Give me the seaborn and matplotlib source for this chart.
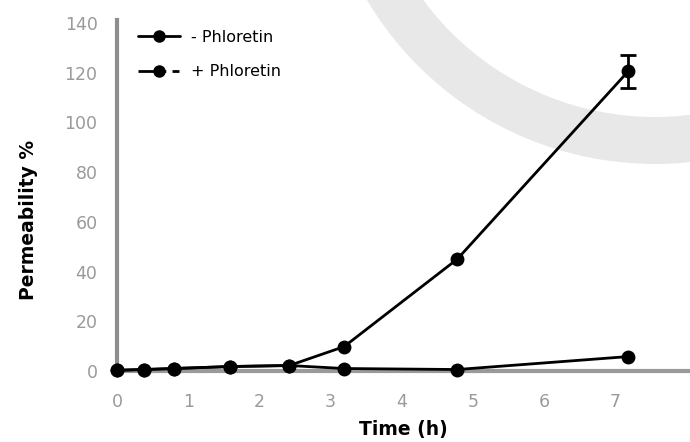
import matplotlib
matplotlib.use("Agg")
import matplotlib.pyplot as plt
import seaborn as sns
import pandas as pd
from matplotlib.patches import Wedge
from matplotlib.lines import Line2D

# dataset
time_h = [0, 0.38, 0.80, 1.59, 2.42, 3.19, 4.78, 7.18]
minus_phloretin = [0.3, 0.6, 1.0, 1.8, 2.2, 9.8, 45.0, 120.5]
plus_phloretin = [0.3, 0.6, 1.0, 1.8, 2.2, 1.0, 0.6, 5.8]
minus_err_last = 6.5
labels = ["- Phloretin", "+ Phloretin"]
x_ticks = [0, 1, 2, 3, 4, 5, 6, 7]
y_ticks = [0, 20, 40, 60, 80, 100, 120, 140]

df = pd.DataFrame({
    "time": time_h * 2,
    "perm": minus_phloretin + plus_phloretin,
    "group": [labels[0]] * len(time_h) + [labels[1]] * len(time_h),
})

sns.set_style("white")
plt.rcParams["font.family"] = ["DejaVu Sans"]
plt.rcParams["lines.scale_dashes"] = False

fig = plt.figure(figsize=(6.9, 4.42), dpi=100, facecolor="white")

# decorative grey ring in the background (pixel coordinates)
bg = fig.add_axes([0, 0, 1, 1], zorder=0)
bg.set_xlim(0, 690)
bg.set_ylim(442, 0)
bg.axis("off")
bg.add_patch(Wedge((655, -171), 335, 0, 360, width=47, color="#e8e8e8", lw=0))

ax = fig.add_axes([117 / 690, 71 / 442, 573 / 690, 351 / 442], zorder=1)
ax.patch.set_alpha(0)

sns.lineplot(data=df, x="time", y="perm", hue="group",
             palette={labels[0]: "black", labels[1]: "black"},
             marker="o", markersize=10, markeredgewidth=0, linewidth=2,
             legend=False, ax=ax, clip_on=False, zorder=3)

ax.errorbar(time_h[-1], minus_phloretin[-1], yerr=minus_err_last, fmt="none",
            ecolor="black", elinewidth=2, capsize=6, capthick=2, zorder=3,
            clip_on=False)

ax.set_xlim(0, 8.05)
ax.set_ylim(0, 141.2)
ax.set_xticks(x_ticks)
ax.set_yticks(y_ticks)
ax.tick_params(axis="both", length=0, labelsize=12.5, colors="#9a9a9a")
ax.tick_params(axis="x", pad=16)
ax.tick_params(axis="y", pad=14)

for side in ["top", "right"]:
    ax.spines[side].set_visible(False)
ax.spines["left"].set_color("#8e8e8e")
ax.spines["bottom"].set_color("#9a9a9a")
ax.spines["left"].set_linewidth(3)
ax.spines["bottom"].set_linewidth(3)

ax.set_xlabel("Time (h)", fontsize=13.5, fontweight="bold", color="black", va="center")
ax.xaxis.set_label_coords(0.5, -0.168)
ax.set_ylabel("Permeability %", fontsize=13.5, fontweight="bold", color="black", va="center")
ax.yaxis.set_label_coords(-0.155, 0.43)

handles = [
    Line2D([], [], color="black", lw=2, marker="o", markersize=9, markeredgewidth=0),
    Line2D([], [], color="black", lw=2, marker="o", markersize=9, markeredgewidth=0,
           dashes=(20, 4.5, 5, 10)),
]
leg = ax.legend(handles, labels, loc="upper left", bbox_to_anchor=(138 / 690, 412 / 442),
                bbox_transform=fig.transFigure, frameon=False, fontsize=11.5,
                handlelength=2.6, handletextpad=0.7, labelspacing=1.2,
                borderpad=0, borderaxespad=0)
for t in leg.get_texts():
    t.set_color("black")

fig.savefig("out.png", dpi=100, facecolor="white")
